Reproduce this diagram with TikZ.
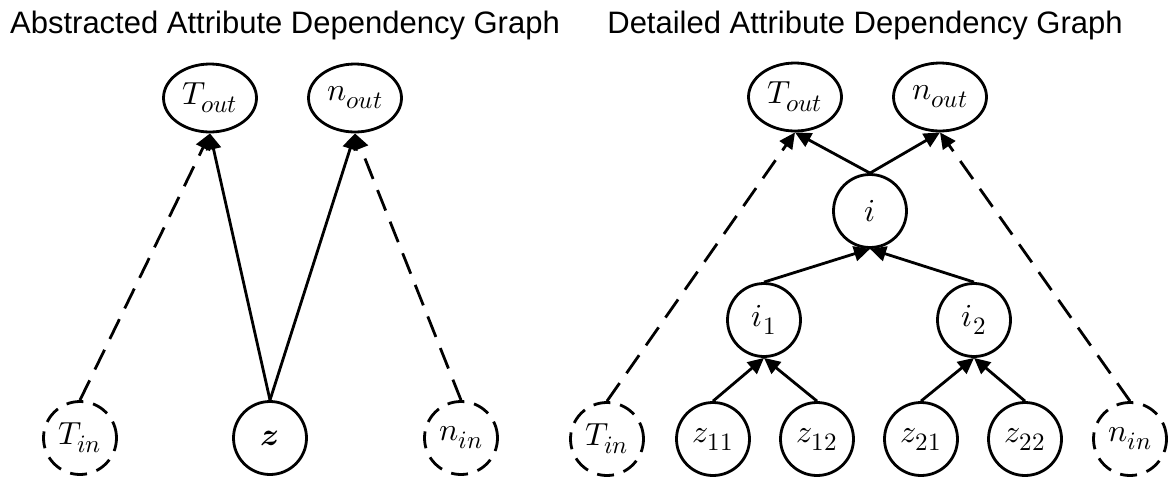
\documentclass[tikz,border=0pt]{standalone}
\usepackage{fontspec}
\usepackage{unicode-math}
\setmainfont{Liberation Sans}
\DeclareMathSizes{32}{32}{25}{19}
\usetikzlibrary{shapes.geometric,arrows.meta}
\begin{document}
\begin{tikzpicture}[x=1pt,y=-1pt,
  every node/.style={inner sep=0pt},
  lbl/.style={font=\fontsize{32}{34}\selectfont},
  circ/.style={circle,draw,line width=2.8pt,minimum size=73pt,lbl},
  dcirc/.style={circ,dash pattern=on 17pt off 10pt},
  oval/.style={ellipse,draw,line width=2.8pt,minimum width=93pt,minimum height=68pt,lbl},
  edge/.style={line width=2.8pt,-{Triangle[length=16pt,width=15pt]}},
  dedge/.style={edge,dash pattern=on 22pt off 12pt},
  title/.style={font=\fontsize{31}{34}\selectfont,anchor=base}]
\useasboundingbox (0,0) rectangle (1175,480);
% titles
\node[title] (t1) at (285,33) {Abstracted Attribute Dependency Graph};
\node[title] (t2) at (865,33) {Detailed Attribute Dependency Graph};
% left graph
\node[oval] (lTo) at (210,98) {$T_{out}$};
\node[oval] (lno) at (355,98) {$n_{out}$};
\node[dcirc] (lTi) at (80,438) {$T_{in}$};
\node[circ] (lz) at (270,438) {$\symbfit{z}$};
\node[dcirc] (lni) at (461,438) {$n_{in}$};
\draw[dedge] (lTi.north) -- (lTo.south);
\draw[edge] (lz.north) -- (lTo.south);
\draw[edge] (lz.north) -- (lno.south);
\draw[dedge] (lni.north) -- (lno.south);
% right graph
\node[oval] (rTo) at (795,97) {$T_{out}$};
\node[oval] (rno) at (940,97) {$n_{out}$};
\node[circ] (ri) at (870,211) {$i$};
\node[circ] (ri1) at (764,320) {$i_1$};
\node[circ] (ri2) at (974,320) {$i_2$};
\node[dcirc] (rTi) at (607,439) {$T_{in}$};
\node[circ] (z11) at (713,439) {$z_{11}$};
\node[circ] (z12) at (817,439) {$z_{12}$};
\node[circ] (z21) at (921,439) {$z_{21}$};
\node[circ] (z22) at (1025,439) {$z_{22}$};
\node[dcirc] (rni) at (1130,439) {$n_{in}$};
\draw[dedge] (rTi.north) -- (rTo.south);
\draw[dedge] (rni.north) -- (rno.south);
\draw[edge] (ri.north) -- (rTo.south);
\draw[edge] (ri.north) -- (rno.south);
\draw[edge] (ri1.north) -- (ri.south);
\draw[edge] (ri2.north) -- (ri.south);
\draw[edge] (z11.north) -- (ri1.south);
\draw[edge] (z12.north) -- (ri1.south);
\draw[edge] (z21.north) -- (ri2.south);
\draw[edge] (z22.north) -- (ri2.south);
\end{tikzpicture}
\end{document}
